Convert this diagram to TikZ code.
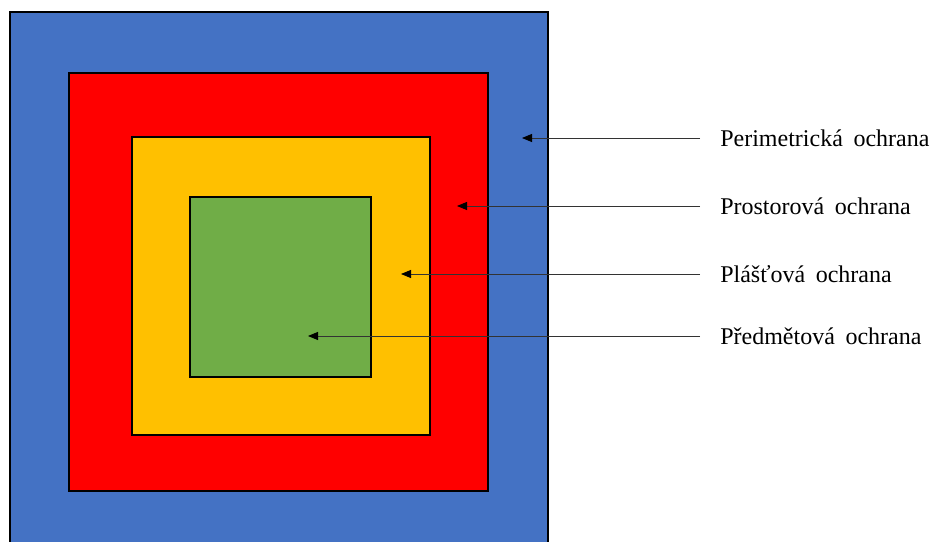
\documentclass[tikz,border=0pt]{standalone}
\usepackage{fontspec}
\setmainfont{Liberation Serif}
\usetikzlibrary{arrows.meta,calc}
\definecolor{zonink}{HTML}{000000}
\definecolor{zonperim}{HTML}{4472C4}
\definecolor{zonspace}{HTML}{FF0000}
\definecolor{zonshell}{HTML}{FFC000}
\definecolor{zonobject}{HTML}{70AD47}
\definecolor{zonline}{HTML}{333333}
\newcommand{\zonfont}{\fontsize{18}{21}\selectfont\spaceskip=8pt plus 1pt\relax}
\tikzset{
  zonsquare/.style={
    draw=zonink,
    line width=0.9pt,
    inner sep=0pt,
    anchor=center
  },
  zonlabel/.style={
    font=\zonfont,
    anchor=west,
    inner sep=0pt,
    text=zonink
  },
  zonarrow/.style={
    -{Triangle[length=7.5pt,width=6pt,color=zonink]},
    line width=0.7pt,
    color=zonline
  }
}

\begin{document}
\begin{tikzpicture}[x=0.75pt,y=-0.75pt]
  \useasboundingbox (0,0) rectangle (933,542);
  \clip (0,0) rectangle (933,542);

  % nested zones
  \node[zonsquare, fill=zonperim, minimum width=538*0.75pt, minimum height=538*0.75pt] (perim) at (279,281) {};
  \node[zonsquare, fill=zonspace, minimum width=419*0.75pt, minimum height=418*0.75pt] (space) at (278.5,282) {};
  \node[zonsquare, fill=zonshell, minimum width=298*0.75pt, minimum height=298*0.75pt] (shell) at (281,286) {};
  \node[zonsquare, fill=zonobject, minimum width=181*0.75pt, minimum height=180*0.75pt] (object) at (280.5,287) {};

  % labels
  \node[zonlabel] (perimtext) at (720,138) {Perimetrická ochrana};
  \node[zonlabel] (spacetext) at (720,206) {Prostorová ochrana};
  \node[zonlabel] (shelltext) at (720,274) {Plášťová ochrana};
  \node[zonlabel] (objecttext) at (720,336) {Předmětová ochrana};

  \coordinate (perimtip) at (522,138);
  \coordinate (spacetip) at (457,206);
  \coordinate (shelltip) at (401,274);
  \coordinate (objecttip) at (308,336);

  \draw[zonarrow] ([xshift=-15pt]perimtext.west) -- (perimtip);
  \draw[zonarrow] ([xshift=-15pt]spacetext.west) -- (spacetip);
  \draw[zonarrow] ([xshift=-15pt]shelltext.west) -- (shelltip);
  \draw[zonarrow] ([xshift=-15pt]objecttext.west) -- (objecttip);
\end{tikzpicture}
\end{document}
